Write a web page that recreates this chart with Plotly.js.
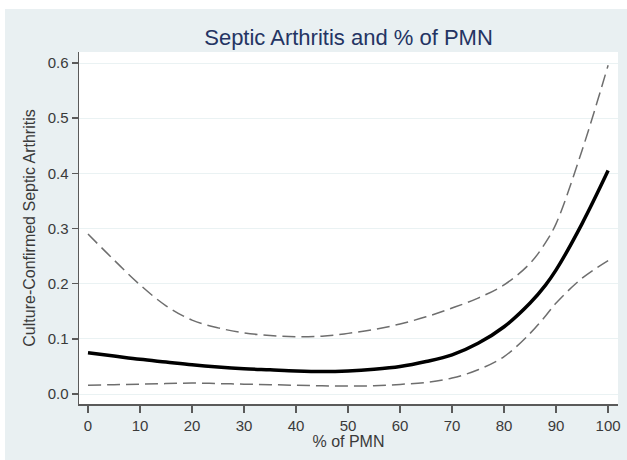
<!DOCTYPE html>
<html>
<head>
<meta charset="utf-8">
<script src="https://cdn.plot.ly/plotly-3.0.1.min.js"></script>
<style>
  html, body { margin: 0; padding: 0; background: #ffffff; }
  #chart { position: absolute; left: 5px; top: 9px; width: 622px; height: 451px; }
</style>
</head>
<body>
<div id="chart"></div>
<script>
// % of PMN
const pmn = [0, 5, 10, 15, 20, 25, 30, 35, 40, 45, 50, 55, 60, 65, 70, 75, 80, 85, 88, 90, 95, 100];
// Predicted probability of culture-confirmed septic arthritis
const estimate = [0.075, 0.069, 0.063, 0.058, 0.053, 0.049, 0.046, 0.044, 0.042, 0.041, 0.042, 0.045, 0.050, 0.059, 0.071, 0.092, 0.122, 0.165, 0.198, 0.225, 0.309, 0.405];
// Upper 95% confidence limit
const upperCI = [0.290, 0.243, 0.198, 0.160, 0.134, 0.120, 0.111, 0.106, 0.104, 0.105, 0.110, 0.117, 0.127, 0.140, 0.156, 0.174, 0.198, 0.237, 0.275, 0.309, 0.442, 0.596];
// Lower 95% confidence limit
const lowerCI = [0.016, 0.017, 0.018, 0.019, 0.020, 0.019, 0.018, 0.017, 0.016, 0.015, 0.0145, 0.015, 0.0175, 0.021, 0.029, 0.044, 0.068, 0.110, 0.142, 0.165, 0.210, 0.242];

const yTicks = [0, 0.1, 0.2, 0.3, 0.4, 0.5, 0.6];
const yTickText = ['0.0', '0.1', '0.2', '0.3', '0.4', '0.5', '0.6'];
const xTicks = [0, 10, 20, 30, 40, 50, 60, 70, 80, 90, 100];

const FAM = 'Liberation Sans, Arial, Helvetica, sans-serif';
const dashLine = { color: '#6e6e6e', width: 1.5, dash: '13px,6px', shape: 'spline', smoothing: 1 };

const traces = [
  { x: pmn, y: upperCI, mode: 'lines', line: dashLine, hoverinfo: 'skip' },
  { x: pmn, y: lowerCI, mode: 'lines', line: dashLine, hoverinfo: 'skip' },
  { x: pmn, y: estimate, mode: 'lines', line: { color: '#000000', width: 3.5, shape: 'spline', smoothing: 1 } }
];

const axisFont = { family: FAM, size: 15, color: '#3a3a3a' };

const layout = {
  width: 622, height: 451,
  margin: { l: 74, r: 9, t: 43, b: 56 },
  paper_bgcolor: '#e9f0f2',
  plot_bgcolor: '#ffffff',
  showlegend: false,
  font: { family: FAM, color: '#3a3a3a' },
  title: {
    text: 'Septic Arthritis and % of PMN',
    font: { family: FAM, size: 22, color: '#243463' },
    xref: 'paper', x: 0.5, xanchor: 'center',
    yref: 'container', y: 0.938, yanchor: 'middle'
  },
  xaxis: {
    range: [-1.73, 101.9],
    tickvals: xTicks,
    ticks: 'outside', ticklen: 7, tickwidth: 1.5, tickcolor: '#5a5a5a',
    showline: true, linecolor: '#5a5a5a', linewidth: 1.5,
    showgrid: false, zeroline: false,
    tickfont: axisFont,
    title: { text: '% of PMN', font: { family: FAM, size: 16, color: '#3a3a3a' }, standoff: 3 }
  },
  yaxis: {
    range: [-0.018, 0.62],
    tickvals: yTicks, ticktext: yTickText,
    ticks: 'outside', ticklen: 6, tickwidth: 1.5, tickcolor: '#5a5a5a',
    showline: true, linecolor: '#5a5a5a', linewidth: 1.5,
    showgrid: true, gridcolor: '#eaf2f3', gridwidth: 1,
    zeroline: false,
    tickfont: axisFont,
    title: { text: 'Culture-Confirmed Septic Arthritis', font: { family: FAM, size: 16, color: '#3a3a3a' }, standoff: 8 }
  }
};

Plotly.newPlot('chart', traces, layout, { displayModeBar: false, staticPlot: true });
</script>
</body>
</html>
